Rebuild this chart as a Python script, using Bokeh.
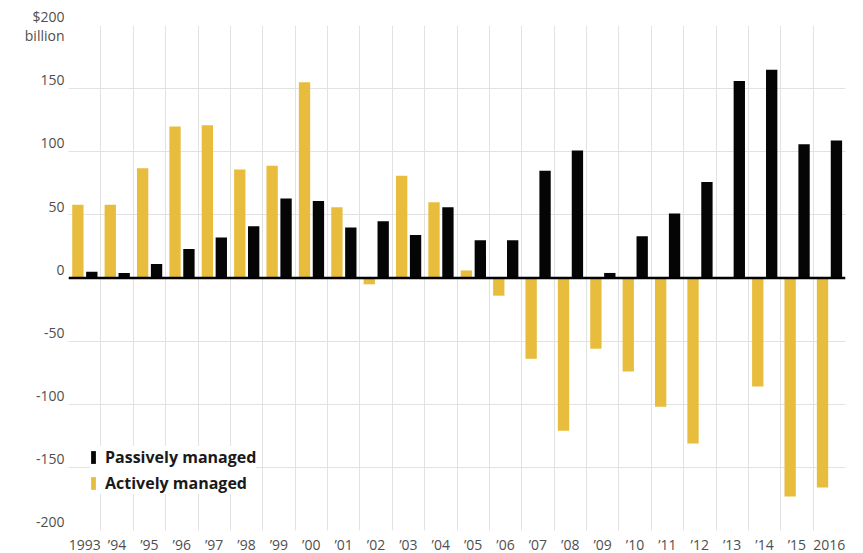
import numpy as np
from bokeh.plotting import figure
from bokeh.models import (ColumnDataSource, Range1d, FixedTicker, Grid, Span,
                          Legend, LegendItem, LinearAxis)
from bokeh.embed import file_html
from bokeh.resources import INLINE

# ---- data (billions of dollars, net flows) ----
years = ["1993", "’94", "’95", "’96", "’97", "’98", "’99", "’00", "’01", "’02", "’03", "’04",
         "’05", "’06", "’07", "’08", "’09", "’10", "’11", "’12", "’13", "’14", "’15", "2016"]
actively = [58, 58, 87, 120, 121, 86, 89, 155, 56, -5, 81, 60,
            6, -14, -64, -121, -56, -74, -102, -131, -1, -86, -173, -166]
passively = [5, 4, 11, 23, 32, 41, 63, 61, 40, 45, 34, 56,
             30, 30, 85, 101, 4, 33, 51, 76, 156, 165, 106, 109]
ytick_values = [200, 150, 100, 50, 0, -50, -100, -150, -200]
ytick_labels = ["$200\nbillion", "150", "100", "50", "0", "-50", "-100", "-150", "-200"]
series_names = ["Passively managed", "Actively managed"]

GOLD = "#E8BD3E"
BLACK = "#050505"
GRID = "#e2e2e2"
TICK_COLOR = "#4f4f4f"
FONT = "Open Sans"

n = len(years)
idx = np.arange(n)
centers = idx + 0.5

src = ColumnDataSource(dict(
    x_active=centers - 0.21,
    x_passive=centers + 0.22,
    actively=actively,
    passively=passively,
))

p = figure(frame_width=777, frame_height=505,
           x_range=Range1d(0, n), y_range=Range1d(-200, 200),
           y_axis_location=None,
           output_backend="svg", toolbar_location=None)
p.min_border_left = 68
p.min_border_top = 25
p.min_border_right = 10
p.min_border_bottom = 0
p.outline_line_color = None
p.background_fill_color = "white"

# x axis: labels at band centres, grid at band edges
xa = p.xaxis[0]
xa.ticker = FixedTicker(ticks=list(centers))
xa.major_label_overrides = {float(c): lab for c, lab in zip(centers, years)}
xa.axis_line_color = None
xa.major_tick_line_color = None
xa.major_tick_out = 0
xa.major_tick_in = 0
xa.minor_tick_line_color = None
xa.major_label_standoff = 4
xa.major_label_text_font = FONT
xa.major_label_text_font_size = "14px"
xa.major_label_text_color = TICK_COLOR

p.xgrid.ticker = FixedTicker(ticks=list(range(n + 1)))
p.xgrid.grid_line_color = GRID
p.xgrid.grid_line_width = 1

ygrid = Grid(dimension=1, ticker=FixedTicker(ticks=ytick_values),
             grid_line_color=GRID, grid_line_width=1)
p.add_layout(ygrid)

# y axis: labels sit just above their gridlines (top label straddles it)
label_pos = [v if v == ytick_values[0] else v + 7 for v in ytick_values]
ya = LinearAxis(ticker=FixedTicker(ticks=label_pos))
ya.major_label_overrides = {float(pos): lab for pos, lab in zip(label_pos, ytick_labels)}
ya.axis_line_color = None
ya.major_tick_line_color = None
ya.major_tick_out = 0
ya.major_tick_in = 0
ya.minor_tick_line_color = None
ya.major_label_standoff = 4
ya.major_label_text_font = FONT
ya.major_label_text_font_size = "14px"
ya.major_label_text_color = TICK_COLOR
ya.major_label_text_line_height = 1.0
p.add_layout(ya, "left")

r_active = p.vbar(x="x_active", top="actively", bottom=0, width=0.35, source=src,
                  fill_color=GOLD, line_color=None)
r_passive = p.vbar(x="x_passive", top="passively", bottom=0, width=0.35, source=src,
                   fill_color=BLACK, line_color=None)

p.add_layout(Span(location=0, dimension="width", line_color="black", line_width=2.6))

legend = Legend(items=[LegendItem(label=series_names[0], renderers=[r_passive]),
                       LegendItem(label=series_names[1], renderers=[r_active])],
                location=(22, 36))
legend.glyph_width = 6
legend.glyph_height = 16
legend.label_standoff = 9
legend.label_height = 22
legend.spacing = 4
legend.padding = 4
legend.margin = 0
legend.border_line_color = None
legend.background_fill_color = "white"
legend.background_fill_alpha = 1.0
legend.label_text_font = FONT
legend.label_text_font_style = "bold"
legend.label_text_font_size = "16px"
legend.label_text_color = "#1a1a1a"
p.add_layout(legend)

open("out.html", "w").write(file_html(p, INLINE))
